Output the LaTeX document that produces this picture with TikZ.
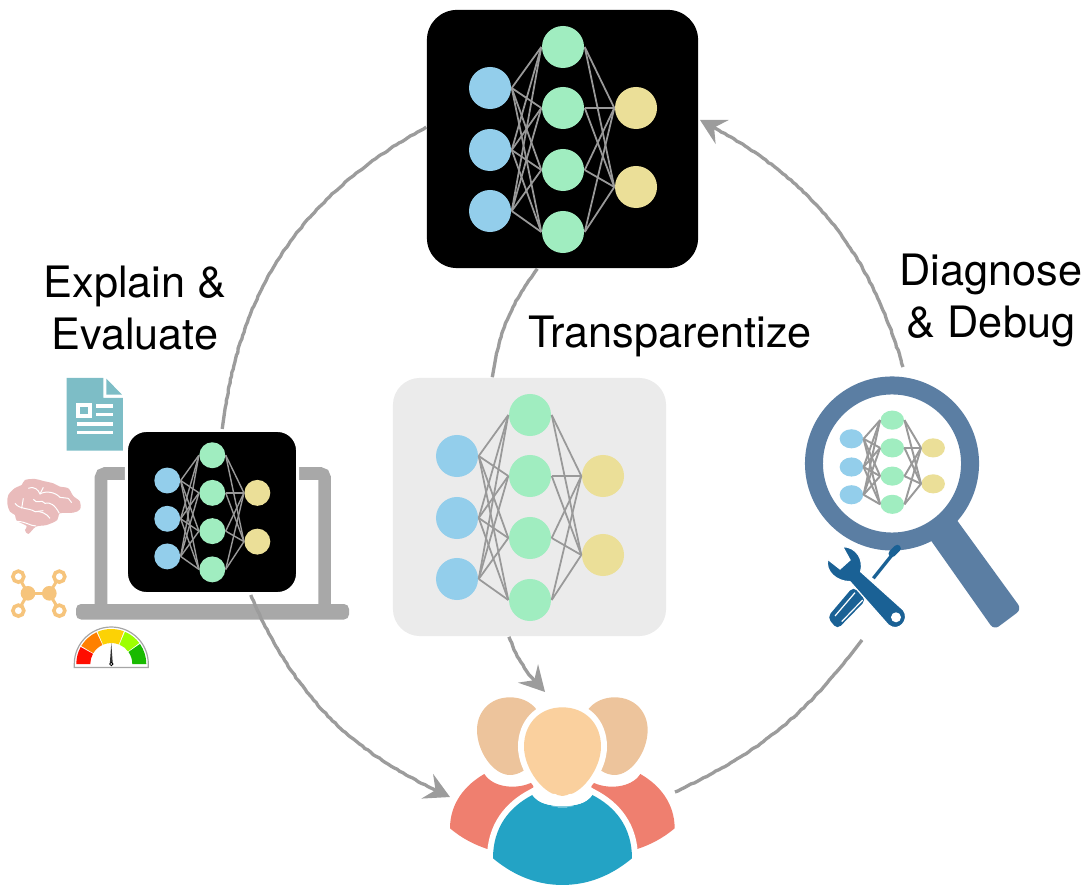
\documentclass[tikz,border=0pt]{standalone}
\usepackage{fontspec}
\setmainfont{TeX Gyre Heros}
\usetikzlibrary{arrows.meta,decorations.pathmorphing}
\definecolor{netblue}{HTML}{93CEEB}
\definecolor{netgreen}{HTML}{A0EDC0}
\definecolor{netyellow}{HTML}{EBDF98}
\definecolor{netline}{HTML}{999999}
\definecolor{flowgray}{HTML}{9C9C9C}
\definecolor{lapgray}{HTML}{A8A8A8}
\definecolor{lensblue}{HTML}{5B7EA3}
\definecolor{toolblue}{HTML}{1A6195}
\definecolor{docteal}{HTML}{7DBDC6}
\definecolor{brainpink}{HTML}{E9BBBB}
\definecolor{molorange}{HTML}{F6C47C}
\definecolor{backhead}{HTML}{EDC49C}
\definecolor{fronthead}{HTML}{FAD09E}
\definecolor{backbody}{HTML}{EF7F6F}
\definecolor{frontbody}{HTML}{23A3C5}
\tikzset{
  netnode/.style={circle,transform shape,inner sep=0pt,minimum size=.42cm},
  inputnode/.style={netnode,fill=netblue},
  hiddennode/.style={netnode,fill=netgreen},
  outputnode/.style={netnode,fill=netyellow},
  label/.style={align=center,font=\fontsize{12.3}{14.8}\selectfont},
}
% #1 prefix, #2 #3 centre, #4 #5 scale, #6 width of the links
\newcommand{\drawnet}[6]{
  \begin{scope}[shift={(#2,#3)},xscale=#4,yscale=#5]
    \foreach \i/\ypos in {1/-51,2/11,3/72}
      \node[inputnode] (#1b\i) at (-72.5,\ypos) {};
    \foreach \i/\ypos in {1/-92,2/-31,3/31,4/93}
      \node[hiddennode] (#1g\i) at (.5,\ypos) {};
    \foreach \i/\ypos in {1/-31,2/48}
      \node[outputnode] (#1y\i) at (73.5,\ypos) {};
    \foreach \i in {1,2,3}
      \foreach \j in {1,2,3,4}
        \draw[netline,line width=#6] (#1b\i.east) -- (#1g\j.west);
    \foreach \i in {1,2,3,4}
      \foreach \j in {1,2}
        \draw[netline,line width=#6] (#1g\i.east) -- (#1y\j.west);
  \end{scope}
}
\begin{document}
\begin{tikzpicture}[x=.01cm,y=-.01cm]
  \useasboundingbox (0,0) rectangle (1092,895);

  % top network
  \node[fill=black,rounded corners=.3cm,minimum width=2.71cm,minimum height=2.58cm,inner sep=0pt] (topbox) at (562.5,139) {};
  \drawnet{top}{562.5}{139}{1}{1}{.5pt}

  % transparent network
  \node[fill=black!8,rounded corners=.27cm,minimum width=2.73cm,minimum height=2.58cm,inner sep=0pt] (midbox) at (529.5,507) {};
  \drawnet{mid}{529.5}{507}{1}{1}{.5pt}

  % laptop
  \draw[lapgray,line width=.125cm,rounded corners=.04cm] (101,606) -- (101,473.5) -- (324.5,473.5) -- (324.5,606);
  \fill[lapgray,rounded corners=.05cm] (76,604) rectangle (349,619.5);
  \node[fill=black,draw=white,line width=.03cm,rounded corners=.2cm,minimum width=1.71cm,minimum height=1.63cm,inner sep=0pt] (lapbox) at (212,512) {};
  \drawnet{lap}{212}{512}{.617}{.617}{.4pt}

  % document
  \begin{scope}[shift={(0,370)},scale=.3333]
    \fill[docteal] (200,24) -- (310,24) -- (310,84) -- (369,84) -- (369,242) -- (200,242) -- cycle;
    \fill[docteal] (319,26) -- (366,74) -- (319,74) -- cycle;
    \draw[white,line width=.04cm] (234,106) rectangle (269,137);
    \foreach \ypos/\xstart in {108/288,134/288,162/231,188/231}
      \draw[white,line width=.033cm] (\xstart,\ypos) -- (339,\ypos);

    % molecule
    \draw[molorange,line width=.03cm] (55,620) -- (84,670) -- (55,722);
    \draw[molorange,line width=.03cm] (178,620) -- (148,670) -- (178,722);
    \draw[molorange,line width=.035cm] (84,670) -- (148,670);
    \foreach \xpos in {84,148}
      \fill[molorange] (\xpos,670) circle (22);
    \foreach \xpos/\ypos in {55/620,178/620,55/722,178/722}
      \draw[molorange,fill=white,line width=.036cm] (\xpos,\ypos) circle (16.5);
  \end{scope}

  % brain
  \begin{scope}[shift={(0,470)},scale=.3333]
    \fill[brainpink] plot[smooth cycle,tension=.55] coordinates {(22,100) (25,75) (45,54) (65,45) (75,30) (105,27) (130,33) (160,40) (180,50) (205,55) (220,78) (240,95) (240,118) (220,128) (180,130) (172,150) (140,165) (108,170) (85,192) (75,180) (80,168) (50,152) (45,135) (30,125)};
    \draw[white,line width=.01cm] (85,55) .. controls (105,48) and (115,60) .. (120,72) .. controls (135,62) and (165,65) .. (180,82) -- (205,85);
    \draw[white,line width=.01cm] (120,72) -- (130,52);
    \draw[white,line width=.01cm] (100,88) .. controls (110,105) and (125,85) .. (135,100) .. controls (150,95) and (165,105) .. (178,130);
    \draw[white,line width=.01cm] (45,100) .. controls (60,120) and (85,112) .. (105,125) .. controls (120,122) and (140,130) .. (150,145);
    \draw[white,line width=.01cm] (70,85) -- (65,115);
    \draw[white,line width=.01cm] (105,125) -- (130,122);
    \draw[white,line width=.01cm] (50,154) .. controls (80,155) and (90,168) .. (108,168);
    \draw[white,line width=.01cm] (205,85) -- (215,98);
  \end{scope}

  % gauge
  \begin{scope}[shift={(111.3,664)},yscale=-1]
    \draw[black!35,fill=white,line width=.012cm] (-37,-3.5) -- (-37,0) arc[start angle=180,end angle=0,radius=37] -- (37,-3.5) -- cycle;
    \foreach \col/\angstart/\angend in {red!90!orange/180/151,orange/149/115,yellow!70!orange/113/69,lime!60!green!70!yellow/67/37,green!70!black!90!yellow/35/0}
      \fill[\col] (\angstart:21) arc[start angle=\angstart,end angle=\angend,radius=21] -- (\angend:35) arc[start angle=\angend,end angle=\angstart,radius=35] -- cycle;
    \fill[black!80] (-1.5,0) -- (0,21) -- (1.5,0) -- cycle;
    \draw[black,fill=white,line width=.008cm] (0,0) circle (1.7);
  \end{scope}

  % magnifier
  \begin{scope}[shift={(790,370)},scale=.3333]
    \fill[lensblue,rounded corners=.06cm] (480,422) -- (402,482) -- (612,780) -- (695,718) -- cycle;
  \end{scope}
  \node[circle,draw=lensblue,fill=white,line width=.18cm,minimum size=1.56cm,inner sep=0pt] (lens) at (892,463.5) {};
  \drawnet{mag}{892}{462}{.56}{.455}{.55pt}

  % tools
  \begin{scope}[shift={(790,370)},scale=.3333]
    \draw[toolblue,line width=.033cm] (318,540) -- (250,625);
    \draw[toolblue,line width=.07cm,line cap=round] (306,551) -- (322,535);
    \fill[toolblue,rounded corners=.05cm] (190,650) -- (112,742) -- (142,778) -- (228,690) -- cycle;
    \draw[white,line width=.012cm] (195,668) -- (135,738);
    \draw[white,line width=.012cm] (218,690) -- (155,755);
    \fill[toolblue,draw=white,line width=.012cm] (113,568) -- (150,597) -- (180,570) -- (158,530) .. controls (200,530) and (222,570) .. (212,605) -- (340,720) .. controls (362,750) and (325,790) .. (295,765) -- (180,635) .. controls (140,635) and (105,605) .. (113,568) -- cycle;
    \fill[white] (318,742) circle (15);
  \end{scope}

  % users
  \begin{scope}[shift={(430,650)},scale=.3333]
    \foreach \mir/\off in {1/0,-1/794}{
      \begin{scope}[shift={(\off,0)},xscale=\mir]
        \fill[backbody] (60,535) .. controls (60,460) and (105,405) .. (163,372) .. controls (190,415) and (265,420) .. (310,395) -- (310,500) -- (172,597) .. controls (135,585) and (95,565) .. (60,535) -- cycle;
        \fill[backhead] (240,142) .. controls (180,142) and (141,185) .. (141,240) .. controls (141,305) and (190,375) .. (240,375) .. controls (295,375) and (340,305) .. (340,240) .. controls (340,185) and (300,142) .. (240,142) -- cycle;
      \end{scope}
    }
    \fill[frontbody,preaction={draw=white,line width=.12cm}] (189,625) .. controls (189,530) and (240,470) .. (307,435) .. controls (340,485) and (455,485) .. (487,435) .. controls (555,470) and (606,530) .. (606,625) .. controls (540,680) and (470,705) .. (397,705) .. controls (325,705) and (255,680) .. (189,625) -- cycle;
    \fill[fronthead,preaction={draw=white,line width=.12cm}] (397,172) .. controls (330,172) and (282,220) .. (282,290) .. controls (282,355) and (340,438) .. (397,438) .. controls (455,438) and (513,355) .. (513,290) .. controls (513,220) and (465,172) .. (397,172) -- cycle;
    \fill[frontbody] (307,441) .. controls (340,478) and (455,478) .. (487,441) -- (487,470) -- (307,470) -- cycle;
    \fill[white] (307,435) .. controls (340,480) and (455,480) .. (487,435) .. controls (455,430) and (340,430) .. (307,435) -- cycle;
    \fill[fronthead] (340,385) .. controls (360,425) and (380,438) .. (397,438) .. controls (415,438) and (435,425) .. (455,385) -- cycle;
  \end{scope}

  % labels
  \node[label] (explain) at (135,308) {Explain \&\\Evaluate};
  \node[label] (transparent) at (670,336) {Transparentize};
  \node[label] (diagnose) at (991,300) {Diagnose\\\& Debug};

  % free ends of the arcs
  \coordinate (lensend) at (903,367);
  \coordinate (toptip) at (700,120);
  \coordinate (userstip) at (545,692);
  \coordinate (lefttip) at (450,797);
  \coordinate (usersend) at (675,792);
  \coordinate (toolsend) at (862,640);

  \begin{scope}[every edge/.style={draw,flowgray,line width=.95pt,decorate,decoration={random steps,segment length=1pt,amplitude=.13pt,post=lineto,post length=6pt}},
      tipped/.style={-{Stealth[length=.25cm,width=.27cm,inset=.09cm]}}]
    \path (lensend) edge[tipped,bend right=23] (toptip);
    \path (topbox.175) edge[bend right=27] (lapbox.83);
    \path (lapbox.-65) edge[tipped,bend right=21] (lefttip);
    \path (usersend) edge[bend right=14] (toolsend);
    \path (topbox.-101) edge[bend right=14] (midbox.106);
    \path (midbox.-99) edge[tipped,bend right=12] (userstip);
  \end{scope}
\end{tikzpicture}
\end{document}
